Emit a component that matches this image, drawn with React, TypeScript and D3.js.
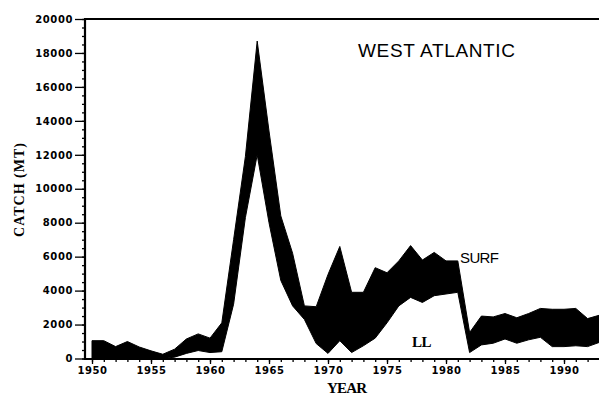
import { useEffect, useRef } from 'react';
import * as d3 from 'd3';

const WIDTH = 599;
const HEIGHT = 396;

const years = [
  1950, 1951, 1952, 1953, 1954, 1955, 1956, 1957, 1958, 1959,
  1960, 1961, 1962, 1963, 1964, 1965, 1966, 1967, 1968, 1969,
  1970, 1971, 1972, 1973, 1974, 1975, 1976, 1977, 1978, 1979,
  1980, 1981, 1982, 1983, 1984, 1985, 1986, 1987, 1988, 1989,
  1990, 1991, 1992, 1993,
];

// longline catch (bottom layer, left unfilled)
const llCatch = [
  0, 0, 0, 0, 0, 0, 0, 80, 300, 470,
  350, 400, 3200, 8300, 12000, 8000, 4600, 3100, 2300, 880,
  300, 1050, 350, 750, 1200, 2100, 3100, 3600, 3300, 3700,
  3800, 3900, 350, 800, 900, 1150, 900, 1100, 1250, 700,
  700, 750, 700, 950,
];

// surface catch, stacked on top of LL (black band)
const surfCatch = [
  1050, 1050, 700, 1000, 680, 450, 250, 470, 850, 980,
  850, 1700, 3800, 3600, 6700, 5400, 3800, 3100, 800, 2170,
  4650, 5550, 3550, 3150, 4150, 2950, 2650, 3050, 2500, 2550,
  1950, 1850, 1180, 1700, 1550, 1500, 1500, 1550, 1700, 2200,
  2200, 2200, 1650, 1600,
];

const yTicks = [0, 2000, 4000, 6000, 8000, 10000, 12000, 14000, 16000, 18000, 20000];
const xTicks = [1950, 1955, 1960, 1965, 1970, 1975, 1980, 1985, 1990];

const AXIS_X = 85;
const AXIS_Y = 359;

export default function App() {
  const svgRef = useRef<SVGSVGElement>(null);

  useEffect(() => {
    if (!svgRef.current) return;
    const svg = d3.select(svgRef.current);
    svg.selectAll('*').remove();

    const x = d3.scaleLinear().domain([1950, 1990]).range([92, 564]);
    const y = d3.scaleLinear().domain([0, 20000]).range([358.5, 19]);

    const rows = years.map((yr, i) => ({ year: yr, ll: llCatch[i], surf: surfCatch[i] }));
    const stacked = d3.stack<any>().keys(['ll', 'surf'])(rows);

    const area = d3
      .area<any>()
      .x((d) => x(d.data.year))
      .y0((d) => y(d[0]))
      .y1((d) => y(d[1]));

    // only the SURF layer is shaded
    svg
      .append('path')
      .datum(stacked[1])
      .attr('d', area)
      .attr('fill', '#000')
      .attr('stroke', '#000')
      .attr('stroke-width', 1);

    const tickFont = '"DejaVu Sans", sans-serif';

    // y axis: minor then major ticks
    const yMinor = svg.append('g').attr('transform', `translate(${AXIS_X},0)`);
    yMinor.call(
      d3.axisLeft(y).tickValues(d3.range(0, 20001, 500)).tickSize(3).tickFormat(() => '')
    );
    const yAxis = svg.append('g').attr('transform', `translate(${AXIS_X},0)`);
    yAxis.call(d3.axisLeft(y).tickValues(yTicks).tickSize(10).tickPadding(2).tickFormat(d3.format('d')));
    svg.selectAll('.domain').remove();
    yAxis
      .selectAll('text')
      .attr('font-family', tickFont)
      .attr('font-weight', 'bold')
      .attr('font-size', 10)
      .attr('letter-spacing', 0.6)
      .attr('fill', '#000');

    // x axis
    const xMinor = svg.append('g').attr('transform', `translate(0,${AXIS_Y})`);
    xMinor.call(d3.axisBottom(x).tickValues(years).tickSize(3).tickFormat(() => ''));
    const xAxis = svg.append('g').attr('transform', `translate(0,${AXIS_Y})`);
    xAxis.call(d3.axisBottom(x).tickValues(xTicks).tickSize(5).tickPadding(3).tickFormat(d3.format('d')));
    svg.selectAll('.domain').remove();
    xAxis
      .selectAll('text')
      .attr('font-family', tickFont)
      .attr('font-weight', 'bold')
      .attr('font-size', 10)
      .attr('letter-spacing', 0.6)
      .attr('fill', '#000');
    svg.selectAll('.tick line').attr('stroke', '#000').attr('stroke-width', 1.3);

    // frame lines
    svg.append('line').attr('x1', AXIS_X).attr('x2', AXIS_X).attr('y1', 18).attr('y2', AXIS_Y + 1)
      .attr('stroke', '#000').attr('stroke-width', 2.2);
    svg.append('line').attr('x1', AXIS_X - 1).attr('x2', WIDTH).attr('y1', AXIS_Y).attr('y2', AXIS_Y)
      .attr('stroke', '#000').attr('stroke-width', 2);
    svg.append('line').attr('x1', AXIS_X - 1).attr('x2', WIDTH).attr('y1', 19).attr('y2', 19)
      .attr('stroke', '#000').attr('stroke-width', 2);

    // labels
    svg.append('text').attr('x', 358).attr('y', 57).attr('textLength', 157)
      .attr('font-family', '"Liberation Sans", sans-serif').attr('font-size', 19)
      .attr('fill', '#000').text('WEST ATLANTIC');
    svg.append('text').attr('x', 460).attr('y', 263).attr('textLength', 39)
      .attr('font-family', '"Liberation Sans", sans-serif').attr('font-size', 15)
      .attr('fill', '#000').text('SURF');
    svg.append('text').attr('x', 412).attr('y', 347)
      .attr('font-family', '"Liberation Serif", serif').attr('font-weight', 'bold').attr('font-size', 15)
      .attr('letter-spacing', -0.5)
      .attr('fill', '#000').text('LL');
    svg.append('text').attr('x', 347).attr('y', 393).attr('text-anchor', 'middle').attr('textLength', 40)
      .attr('font-family', '"Liberation Serif", serif').attr('font-weight', 'bold').attr('font-size', 15)
      .attr('fill', '#000').text('YEAR');
    svg.append('text')
      .attr('transform', 'translate(24,190) rotate(-90)')
      .attr('text-anchor', 'middle').attr('textLength', 94)
      .attr('font-family', '"Liberation Serif", serif').attr('font-weight', 'bold').attr('font-size', 14)
      .attr('fill', '#000').text('CATCH (MT)');
  }, []);

  return (
    <svg
      ref={svgRef}
      width={WIDTH}
      height={HEIGHT}
      viewBox={`0 0 ${WIDTH} ${HEIGHT}`}
      style={{ position: 'absolute', left: 0, top: 0, background: '#fff' }}
    />
  );
}
